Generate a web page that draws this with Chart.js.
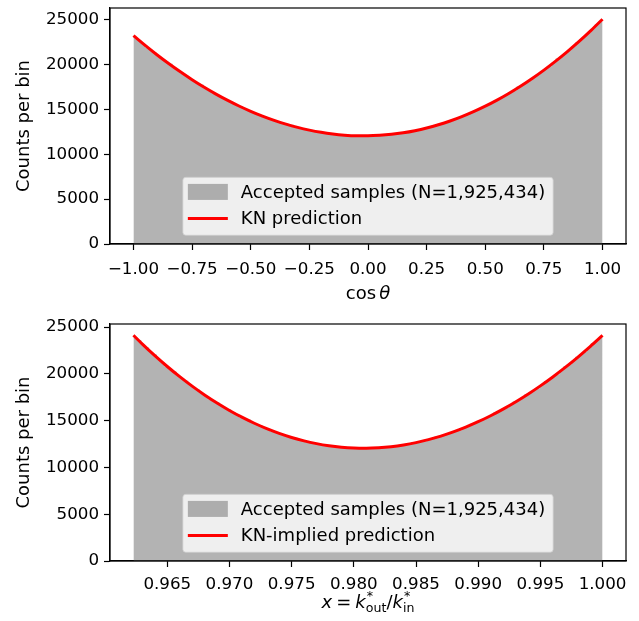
<!DOCTYPE html>
<html>
<head>
<meta charset="utf-8">
<script src="https://cdn.jsdelivr.net/npm/chart.js@4.4.1/dist/chart.umd.min.js"></script>
<style>
  html, body { margin: 0; padding: 0; background: #fff; }
  #wrap { position: relative; width: 639px; height: 621px; }
  canvas { position: absolute; left: 0; }
</style>
</head>
<body>
<div id="wrap">
  <canvas id="topChart" width="639" height="310" style="top:0"></canvas>
  <canvas id="bottomChart" width="639" height="311" style="top:310px"></canvas>
</div>
<script>
// ---- data ----
const N_BINS = 120;
const histLabel = 'Accepted samples (N=1,925,434)';

// top panel: cos(theta)
const cosRange = [-1, 1];
const cosCounts = [
  23080, 22669, 22309, 21890, 21606, 21320, 20927, 20596, 20272, 20080,
  19641, 19335, 18970, 18741, 18510, 18172, 17897, 17740, 17364, 17108,
  16800, 16612, 16374, 16200, 15917, 15697, 15484, 15390, 15076, 14882,
  14640, 14513, 14338, 14230, 14006, 13850, 13650, 13557, 13420, 13290,
  13290, 13048, 12937, 12790, 12734, 12643, 12610, 12479, 12407, 12300,
  12283, 12230, 12240, 12146, 12113, 12040, 12068, 12056, 12110, 12051,
  12058, 12020, 12094, 12121, 12210, 12197, 12245, 12250, 12361, 12430,
  12560, 12587, 12676, 12720, 12874, 12984, 13170, 13224, 13354, 13440,
  13636, 13787, 14010, 14110, 14283, 14400, 14648, 14841, 15100, 15249,
  15464, 15630, 15914, 16150, 16500, 16644, 16901, 17110, 17540, 17716,
  18003, 18240, 18597, 18905, 19290, 19543, 19810, 20210, 20660, 20907,
  21266, 21580, 22007, 22450, 22778, 23174, 23520, 23989, 24470, 24835
];
const cosCurveX = [
  -1.00, -0.95, -0.90, -0.85, -0.80, -0.75, -0.70, -0.65, -0.60, -0.55,
  -0.50, -0.45, -0.40, -0.35, -0.30, -0.25, -0.20, -0.15, -0.10, -0.05,
   0.00,  0.05,  0.10,  0.15,  0.20,  0.25,  0.30,  0.35,  0.40,  0.45,
   0.50,  0.55,  0.60,  0.65,  0.70,  0.75,  0.80,  0.85,  0.90,  0.95, 1.00
];
const cosCurveY = [
  23222, 22131, 21094, 20112, 19185, 18312, 17495, 16734, 16029, 15379,
  14788, 14252, 13774, 13354, 12992, 12688, 12442, 12256, 12129, 12061,
  12054, 12107, 12220, 12395, 12631, 12928, 13288, 13710, 14195, 14744,
  15356, 16031, 16771, 17576, 18446, 19381, 20382, 21449, 22582, 23783, 25051
];
const cosTicks = [-1, -0.75, -0.5, -0.25, 0, 0.25, 0.5, 0.75, 1];
const cosTickLabels = ['\u22121.00', '\u22120.75', '\u22120.50', '\u22120.25', '0.00', '0.25', '0.50', '0.75', '1.00'];

// bottom panel: x = k_out / k_in
const xRange = [0.96228, 1.0];
const xCounts = [
  23910, 23620, 23097, 22810, 22314, 22060, 21561, 21196, 20760, 20487,
  20250, 19807, 19479, 19260, 18844, 18537, 18340, 17945, 17660, 17290,
  17112, 16950, 16593, 16344, 16210, 15868, 15641, 15330, 15207, 15110,
  14802, 14610, 14520, 14248, 14077, 13830, 13757, 13607, 13560, 13329,
  13200, 13160, 12963, 12855, 12680, 12660, 12572, 12580, 12418, 12352,
  12210, 12238, 12192, 12230, 12120, 12094, 12010, 12062, 12056, 12130,
  12065, 12079, 12040, 12127, 12161, 12290, 12250, 12304, 12290, 12432,
  12506, 12680, 12673, 12766, 12800, 12973, 13086, 13300, 13331, 13463,
  13690, 13747, 13899, 13980, 14221, 14392, 14670, 14753, 14943, 15060,
  15341, 15550, 15880, 15987, 16215, 16360, 16689, 17050, 17188, 17447,
  17820, 17983, 18260, 18460, 18833, 19240, 19431, 19739, 19960, 20374,
  20810, 21033, 21371, 21830, 22066, 22330, 22786, 23270, 23529, 23909
];
const xCurveX = [
  0.96228, 0.963, 0.964, 0.965, 0.966, 0.967, 0.968, 0.969, 0.970, 0.971,
  0.972, 0.973, 0.974, 0.975, 0.976, 0.977, 0.978, 0.979, 0.980, 0.981,
  0.982, 0.983, 0.984, 0.985, 0.986, 0.987, 0.988, 0.989, 0.990, 0.991,
  0.992, 0.993, 0.994, 0.995, 0.996, 0.997, 0.998, 0.999, 1.000
];
const xCurveY = [
  24121, 23182, 21945, 20784, 19697, 18684, 17746, 16880, 16089, 15368,
  14720, 14143, 13639, 13204, 12839, 12545, 12320, 12164, 12076, 12057,
  12106, 12221, 12404, 12653, 12968, 13349, 13796, 14306, 14883, 15522,
  16226, 16993, 17822, 18715, 19669, 20686, 21764, 22902, 24102
];
const xTicks = [0.965, 0.970, 0.975, 0.980, 0.985, 0.990, 0.995, 1.000];
const xTickLabels = ['0.965', '0.970', '0.975', '0.980', '0.985', '0.990', '0.995', '1.000'];

const yTicks = [0, 5000, 10000, 15000, 20000, 25000];
const yTickLabels = ['0', '5000', '10000', '15000', '20000', '25000'];

// ---- style ----
const FAM = '"DejaVu Sans", sans-serif';
const histFill = 'rgba(128,128,128,0.6)';
const curveRed = '#ff0000';
Chart.defaults.font.family = FAM;
Chart.defaults.color = '#000';

function histPoints(range, counts) {
  const pts = counts.map((c, i) => ({ x: range[0] + (range[1] - range[0]) * i / N_BINS, y: c }));
  pts.push({ x: range[1], y: counts[counts.length - 1] });
  return pts;
}

function drawRuns(ctx, runs, cx, baseY, size) {
  const fontOf = (r, s) => (r.it ? 'italic ' : '') + s + 'px ' + FAM;
  const small = size * 0.7;
  const widthOf = r => {
    if (r.gap) return r.gap;
    if (r.sup !== undefined) {
      ctx.font = fontOf({}, small);
      return Math.max(ctx.measureText(r.sup).width, ctx.measureText(r.sub).width);
    }
    ctx.font = fontOf(r, size);
    return ctx.measureText(r.t).width;
  };
  const total = runs.reduce((s, r) => s + widthOf(r), 0);
  let x = cx - total / 2;
  ctx.textAlign = 'left';
  ctx.textBaseline = 'alphabetic';
  runs.forEach(r => {
    const w = widthOf(r);
    if (r.gap) { x += w; return; }
    if (r.sup !== undefined) {
      ctx.font = fontOf({}, small);
      ctx.fillText(r.sup, x + 1, baseY - size * 0.42);
      ctx.fillText(r.sub, x, baseY + size * 0.24);
    } else {
      ctx.font = fontOf(r, size);
      ctx.fillText(r.t, x, baseY);
    }
    x += w;
  });
}

const mplDecor = {
  id: 'mplDecor',
  afterDraw(chart, args, o) {
    const ctx = chart.ctx, a = chart.chartArea;
    ctx.save();
    // axes frame
    ctx.strokeStyle = '#000';
    ctx.lineWidth = 1.2;
    ctx.strokeRect(a.left, a.top, a.right - a.left, a.bottom - a.top);

    // legend (lower center)
    ctx.font = '18px ' + FAM;
    const tw = Math.max(...o.items.map(it => ctx.measureText(it.label).width));
    const w = 58 + tw + 8, h = 58;
    const x0 = (a.left + a.right) / 2 - w / 2;
    const y0 = a.bottom - 8.7 - h;
    ctx.beginPath();
    ctx.roundRect(x0, y0, w, h, 3);
    ctx.fillStyle = 'rgba(255,255,255,0.8)';
    ctx.fill();
    ctx.strokeStyle = 'rgba(204,204,204,0.8)';
    ctx.lineWidth = 1;
    ctx.stroke();
    o.items.forEach((it, k) => {
      const cy = y0 + 14.6 + k * 26.7;
      if (it.kind === 'patch') {
        ctx.fillStyle = it.color;
        ctx.fillRect(x0 + 5, cy - 8, 40, 16);
      } else {
        ctx.strokeStyle = it.color;
        ctx.lineWidth = 3;
        ctx.beginPath();
        ctx.moveTo(x0 + 5, cy);
        ctx.lineTo(x0 + 45, cy);
        ctx.stroke();
      }
      ctx.fillStyle = '#000';
      ctx.font = '18px ' + FAM;
      ctx.textAlign = 'left';
      ctx.textBaseline = 'middle';
      ctx.fillText(it.label, x0 + 58, cy + 1);
    });

    // y label
    ctx.save();
    ctx.translate(24, (a.top + a.bottom) / 2);
    ctx.rotate(-Math.PI / 2);
    ctx.font = '18px ' + FAM;
    ctx.textAlign = 'center';
    ctx.textBaseline = 'middle';
    ctx.fillText('Counts per bin', 0, 0);
    ctx.restore();

    // x label
    ctx.fillStyle = '#000';
    drawRuns(ctx, o.xTitle, (a.left + a.right) / 2, a.bottom + o.titleDy, 18);
    ctx.restore();
  }
};

function makePanel(id, opt) {
  const datasets = [
    {
      label: opt.curveLabel,
      data: opt.curveX.map((x, i) => ({ x: x, y: opt.curveY[i] })),
      borderColor: curveRed,
      borderWidth: 3,
      pointRadius: 0,
      fill: false,
      cubicInterpolationMode: 'monotone',
      order: 1
    },
    {
      label: histLabel,
      data: histPoints(opt.range, opt.counts),
      stepped: true,
      fill: 'origin',
      backgroundColor: histFill,
      borderColor: 'rgba(0,0,0,0)',
      borderWidth: 0,
      pointRadius: 0,
      order: 2
    }
  ];
  return new Chart(document.getElementById(id), {
    type: 'line',
    data: { datasets: datasets },
    plugins: [mplDecor],
    options: {
      responsive: false,
      animation: false,
      devicePixelRatio: 1,
      layout: { padding: { left: 0, right: 13, top: opt.padTop, bottom: 0 } },
      plugins: {
        legend: { display: false },
        tooltip: { enabled: false },
        mplDecor: {
          items: [
            { kind: 'patch', color: histFill, label: histLabel },
            { kind: 'line', color: curveRed, label: opt.curveLabel }
          ],
          xTitle: opt.xTitle,
          titleDy: opt.titleDy
        }
      },
      scales: {
        x: {
          type: 'linear',
          min: opt.xMin,
          max: opt.xMax,
          afterBuildTicks: s => { s.ticks = opt.ticks.map(v => ({ value: v })); },
          afterFit: s => { s.height = opt.axisH; s.paddingLeft = 0; s.paddingRight = 0; },
          ticks: {
            autoSkip: false,
            maxRotation: 0,
            padding: opt.tickPad,
            font: { size: 16.7 },
            color: '#000',
            callback: (v, i) => opt.tickLabels[i]
          },
          grid: { display: true, drawOnChartArea: false, drawTicks: true, tickLength: 6, tickWidth: 1.2, tickColor: '#000' },
          border: { display: true, color: '#000', width: 1.2 }
        },
        y: {
          min: 0,
          max: opt.yMax,
          afterBuildTicks: s => { s.ticks = yTicks.map(v => ({ value: v })); },
          afterFit: s => { s.width = 110; s.paddingTop = 0; s.paddingBottom = 0; },
          ticks: {
            padding: 5,
            font: { size: 16.7 },
            color: '#000',
            callback: (v, i) => yTickLabels[i]
          },
          grid: { display: true, drawOnChartArea: false, drawTicks: true, tickLength: 6, tickWidth: 1.2, tickColor: '#000' },
          border: { display: true, color: '#000', width: 1.2 }
        }
      }
    }
  });
}

makePanel('topChart', {
  range: cosRange, counts: cosCounts,
  curveX: cosCurveX, curveY: cosCurveY, curveLabel: 'KN prediction',
  xMin: -1.1, xMax: 1.1, yMax: 26300,
  ticks: cosTicks, tickLabels: cosTickLabels,
  padTop: 8, axisH: 66, tickPad: 10, titleDy: 55,
  xTitle: [{ t: 'cos' }, { gap: 3 }, { t: '\u03b8', it: true }]
});

makePanel('bottomChart', {
  range: xRange, counts: xCounts,
  curveX: xCurveX, curveY: xCurveY, curveLabel: 'KN-implied prediction',
  xMin: 0.960394, xMax: 1.001886, yMax: 25327,
  ticks: xTicks, tickLabels: xTickLabels,
  padTop: 14, axisH: 60, tickPad: 8, titleDy: 47,
  xTitle: [
    { t: 'x', it: true }, { gap: 4 }, { t: '=' }, { gap: 4 },
    { t: 'k', it: true }, { sup: '*', sub: 'out' },
    { t: '/' },
    { t: 'k', it: true }, { sup: '*', sub: 'in' }
  ]
});
</script>
</body>
</html>
